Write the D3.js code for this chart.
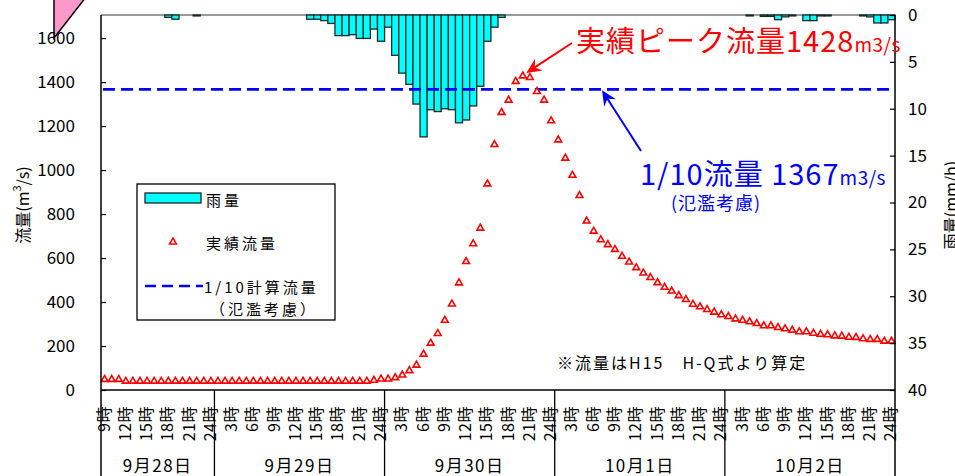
<!DOCTYPE html>
<html>
<head>
<meta charset="utf-8">
<script src="https://cdn.jsdelivr.net/npm/d3@7"></script>
<style>
  body { margin: 0; background: #fff; }
  svg { display: block; font-family: "Noto Sans CJK JP", "Noto Sans", sans-serif; }
</style>
</head>
<body>
<script>
// days shown on the category axis and the first hour of each
var days = ["9月28日", "9月29日", "9月30日", "10月1日", "10月2日"];
var firstHour = [9, 1, 1, 1, 1];

// hourly observed flow (m3/s), 9/28 9時 .. 10/2 24時
var flow = [
  48, 48, 48, 40, 40, 40, 40, 40, 40, 40, 40, 40, 40, 40, 40, 40,
  40, 40, 40, 40, 40, 40, 40, 40, 40, 40, 40, 40, 40, 40, 40, 40,
  40, 40, 40, 40, 40, 40, 44, 50,
  50, 56, 68, 88, 113, 163, 213, 257, 317, 391, 487, 584, 665, 736, 937, 1116,
  1262, 1318, 1403, 1428, 1421, 1357, 1318, 1224,
  1137, 1054, 976, 884, 768, 722, 683, 661, 639, 608, 582, 556, 532, 511, 488, 467,
  450, 429, 411, 390, 378, 366, 354, 342,
  334, 323, 317, 310, 302, 292, 292, 284, 278, 272, 265, 265, 258, 253, 251, 246,
  245, 240, 239, 233, 230, 230, 222, 222
];

// hourly rainfall (mm/h), same hours
var rain = [
  0, 0, 0, 0, 0, 0, 0, 0, 0, 0.25, 0.45, 0, 0, 0.1, 0, 0,
  0, 0, 0, 0, 0, 0, 0, 0, 0, 0, 0, 0, 0, 0.45, 0.45, 0.6,
  0.9, 2.2, 2.2, 2.1, 2.5, 2.5, 1.5, 2.8,
  1.3, 4.3, 6.2, 7.4, 9.5, 13.0, 10.1, 10.3, 10.0, 10.1, 11.5, 11.2, 9.7, 7.6, 2.8, 1.3,
  0.25, 0, 0, 0, 0, 0, 0, 0,
  0, 0, 0, 0, 0, 0, 0, 0, 0, 0, 0, 0, 0, 0, 0, 0,
  0, 0, 0, 0, 0, 0, 0, 0,
  0, 0, 0, 0.1, 0, 0.15, 0.15, 0.5, 0.2, 0.1, 0, 0.6, 0.6, 0.1, 0.1, 0,
  0, 0, 0, 0.1, 0.2, 0.85, 0.85, 0.5
];

var planFlow = 1367;
var peakFlow = 1428;
var flowTicks = [0, 200, 400, 600, 800, 1000, 1200, 1400, 1600];
var rainTicks = [0, 5, 10, 15, 20, 25, 30, 35, 40];

var width = 955, height = 476;
var plotL = 101, plotR = 895, plotT = 15, plotB = 390;

var svg = d3.select("body").append("svg")
    .attr("width", width)
    .attr("height", height);

// build the hourly categories
var cats = [];
days.forEach(function(d, i) {
    for (var h = firstHour[i]; h <= 24; h++) cats.push({day: i, hour: h});
});

var x = d3.scaleBand().domain(d3.range(cats.length)).range([plotL, plotR]);
var yFlow = d3.scaleLinear().domain([0, 1705]).range([plotB, plotT]);
var yRain = d3.scaleLinear().domain([0, 40]).range([plotT, plotB]);

// pink callout fragment top-left
svg.append("polygon")
    .attr("points", "54,-3 54,38 86,-3")
    .attr("fill", "#ff99cc")
    .attr("stroke", "#000")
    .attr("stroke-width", 1.5);

// top frame line
svg.append("line")
    .attr("x1", plotL).attr("x2", plotR).attr("y1", plotT).attr("y2", plotT)
    .attr("stroke", "#999").attr("stroke-width", 2);

// rainfall bars hanging from the top
svg.append("g").selectAll("rect")
    .data(rain.map(function(v, i) { return {i: i, v: v}; }).filter(function(d) { return d.v > 0; }))
    .enter().append("rect")
    .attr("x", function(d) { return x(d.i); })
    .attr("y", plotT)
    .attr("width", x.bandwidth())
    .attr("height", function(d) { return yRain(d.v) - plotT; })
    .attr("fill", "#00ffff")
    .attr("stroke", "#1a2a2a")
    .attr("stroke-width", 1.3);

// 1/10 plan flow line
svg.append("line")
    .attr("x1", plotL + 2).attr("x2", plotR)
    .attr("y1", yFlow(planFlow)).attr("y2", yFlow(planFlow))
    .attr("stroke", "#0000ff").attr("stroke-width", 2.6)
    .attr("stroke-dasharray", "12,6");

// observed flow markers
var tri = d3.symbol().type(d3.symbolTriangle).size(20);
svg.append("g").selectAll("path")
    .data(flow)
    .enter().append("path")
    .attr("d", tri)
    .attr("transform", function(d, i) {
        return "translate(" + (x(i) + x.bandwidth() / 2) + "," + yFlow(d) + ")";
    })
    .attr("fill", "#fff")
    .attr("stroke", "#ff0000")
    .attr("stroke-width", 1.6);

// axes
var axL = svg.append("g")
    .attr("transform", "translate(" + plotL + ",0)")
    .call(d3.axisLeft(yFlow).tickValues(flowTicks).tickFormat(d3.format("d")).tickSize(-5).tickPadding(26));
var axR = svg.append("g")
    .attr("transform", "translate(" + plotR + ",0)")
    .call(d3.axisRight(yRain).tickValues(rainTicks).tickSize(-5).tickPadding(13));
[axL, axR].forEach(function(a) {
    a.select(".domain").remove();
    a.selectAll("line").attr("stroke", "#000").attr("stroke-width", 1.2);
    a.selectAll("text").attr("font-size", 17).attr("fill", "#000")
        .attr("font-family", "'Noto Sans CJK JP', sans-serif");
});

// axis lines (extend into the category area)
svg.append("line").attr("x1", plotL).attr("x2", plotL).attr("y1", plotT).attr("y2", height)
    .attr("stroke", "#000").attr("stroke-width", 1.5);
svg.append("line").attr("x1", plotR).attr("x2", plotR).attr("y1", plotT).attr("y2", height)
    .attr("stroke", "#000").attr("stroke-width", 1.5);
svg.append("line").attr("x1", plotL).attr("x2", plotR).attr("y1", plotB).attr("y2", plotB)
    .attr("stroke", "#000").attr("stroke-width", 1.5);

// day dividers and date labels
var dayBounds = [];
cats.forEach(function(c, i) { if (i === 0 || cats[i - 1].day !== c.day) dayBounds.push(i); });
dayBounds.forEach(function(s, k) {
    var e = k + 1 < dayBounds.length ? dayBounds[k + 1] : cats.length;
    var x0 = x(s), x1 = e < cats.length ? x(e) : plotR;
    if (k > 0) {
        svg.append("line").attr("x1", x0).attr("x2", x0).attr("y1", plotB).attr("y2", height)
            .attr("stroke", "#000").attr("stroke-width", 1.3);
    }
    svg.append("text")
        .attr("x", (x0 + x1) / 2).attr("y", 472)
        .attr("text-anchor", "middle")
        .attr("font-size", 17).attr("letter-spacing", 1.5)
        .text(days[k]);
});

// hour labels (rotated)
svg.append("g").selectAll("text")
    .data(cats.map(function(c, i) { return {c: c, i: i}; }).filter(function(d) { return d.c.hour % 3 === 0; }))
    .enter().append("text")
    .attr("transform", function(d) {
        return "translate(" + (x(d.i) + x.bandwidth() / 2 - 2) + ",406) rotate(-90)";
    })
    .attr("text-anchor", "end")
    .attr("dominant-baseline", "central")
    .attr("font-size", 16)
    .attr("letter-spacing", 0.5)
    .text(function(d) { return d.c.hour + "時"; });

// axis titles
var tL = svg.append("text")
    .attr("transform", "translate(22,205) rotate(-90)")
    .attr("text-anchor", "middle").attr("dominant-baseline", "central")
    .attr("font-size", 16);
tL.append("tspan").text("流量(m");
tL.append("tspan").attr("font-size", 11).attr("dy", -6).text("3");
tL.append("tspan").attr("dy", 6).text("/s)");

svg.append("text")
    .attr("transform", "translate(950,205) rotate(-90)")
    .attr("text-anchor", "middle").attr("dominant-baseline", "central")
    .attr("font-size", 16)
    .text("雨量(mm/h)");

// legend
var lg = svg.append("g");
lg.append("rect").attr("x", 137).attr("y", 184).attr("width", 198).attr("height", 136)
    .attr("fill", "#fff").attr("stroke", "#000").attr("stroke-width", 1.3);
lg.append("rect").attr("x", 145).attr("y", 193).attr("width", 56).attr("height", 10)
    .attr("fill", "#00ffff").attr("stroke", "#1a2a2a").attr("stroke-width", 1.3);
lg.append("path").attr("d", tri).attr("transform", "translate(173,242)")
    .attr("fill", "#fff").attr("stroke", "#ff0000").attr("stroke-width", 1.6);
lg.append("line").attr("x1", 145).attr("x2", 203).attr("y1", 286).attr("y2", 286)
    .attr("stroke", "#0000ff").attr("stroke-width", 2.6).attr("stroke-dasharray", "11,6");
[["雨量", 206, 199], ["実績流量", 206, 242], ["1/10計算流量", 204, 286], ["（氾濫考慮）", 210, 308]]
    .forEach(function(t) {
        lg.append("text").attr("x", t[1]).attr("y", t[2])
            .attr("dominant-baseline", "central")
            .attr("font-size", 15).attr("letter-spacing", 3)
            .text(t[0]);
    });

// arrows
function arrow(x1, y1, x2, y2, color) {
    var a = Math.atan2(y2 - y1, x2 - x1), L = 15, W = 7, N = 10;
    var bx = x2 - L * Math.cos(a), by = y2 - L * Math.sin(a);
    var nx = x2 - N * Math.cos(a), ny = y2 - N * Math.sin(a);
    var px = -Math.sin(a), py = Math.cos(a);
    svg.append("line").attr("x1", x1).attr("y1", y1).attr("x2", nx).attr("y2", ny)
        .attr("stroke", color).attr("stroke-width", 2);
    svg.append("polygon")
        .attr("points", [[x2, y2], [bx + px * W, by + py * W], [nx, ny], [bx - px * W, by - py * W]]
            .map(function(p) { return p.join(","); }).join(" "))
        .attr("fill", color);
}
arrow(572, 43, x(flow.indexOf(peakFlow)) + x.bandwidth(), yFlow(peakFlow) - 3, "#ff0000");
arrow(641, 151, 602, yFlow(planFlow) + 1, "#0000ff");

// peak annotation
var tp = svg.append("text").attr("x", 576).attr("y", 52).attr("fill", "#ff0000")
    .attr("font-size", 29);
tp.append("tspan").attr("letter-spacing", 1).text("実績ピーク流量" + peakFlow);
tp.append("tspan").attr("font-size", 19).attr("letter-spacing", 0.5).text("m3/s");

// plan annotation
var tq = svg.append("text").attr("x", 640).attr("y", 185).attr("fill", "#0000ff")
    .attr("font-size", 29);
tq.append("tspan").attr("letter-spacing", 1).text("1/10流量 " + planFlow);
tq.append("tspan").attr("font-size", 19).attr("letter-spacing", 0.5).text("m3/s");
svg.append("text").attr("x", 716).attr("y", 210).attr("fill", "#0000ff")
    .attr("text-anchor", "middle").attr("font-size", 18).attr("letter-spacing", 1)
    .text("(氾濫考慮)");

// note
svg.append("text").attr("x", 557).attr("y", 369)
    .attr("font-size", 16).attr("letter-spacing", 2)
    .text("※流量はH15　H-Q式より算定");
</script>
</body>
</html>
